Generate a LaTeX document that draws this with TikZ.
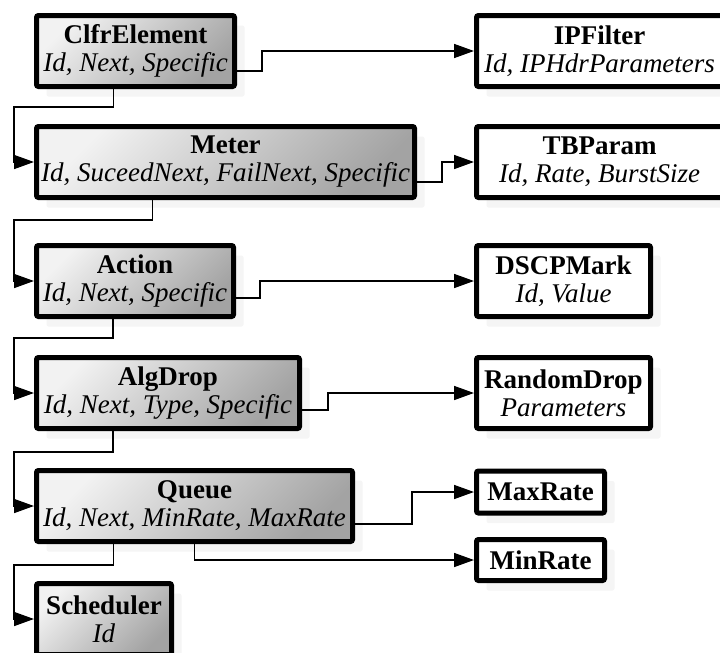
\documentclass[tikz,border=0pt]{standalone}
\usepackage{fontspec}
\setmainfont{Liberation Serif}
\usetikzlibrary{arrows.meta, shadows}

\begin{document}
\begin{tikzpicture}[x=1pt, y=-1pt, font=\fontsize{27}{28}\selectfont,
    box/.style={draw=black, line width=5pt, rounded corners=2pt, align=center,
          inner sep=0pt, minimum height=71pt,
          general shadow={fill=black!4, shadow xshift=10pt, shadow yshift=-10pt}},
    clsbox/.style={box, top color=black!5, bottom color=black!36, shading angle=45},
    databox/.style={box, fill=white},
    link/.style={line width=1.6pt, -{Triangle[length=20pt, width=14pt]}}]
    \useasboundingbox (0,0) rectangle (720,653);

    % chain of elements
    \node[clsbox, minimum width=198pt] (clfr) at (135.5,51)
          {\textbf{ClfrElement}\\\textit{Id, Next, Specific}};
    \node[clsbox, minimum width=378pt] (meter) at (225.5,162)
          {\textbf{Meter}\\\textit{Id, SuceedNext, FailNext, Specific}};
    \node[clsbox, minimum width=197pt] (action) at (135,281)
          {\textbf{Action}\\\textit{Id, Next, Specific}};
    \node[clsbox, minimum width=263pt] (algdrop) at (168,393)
          {\textbf{AlgDrop}\\\textit{Id, Next, Type, Specific}};
    \node[clsbox, minimum width=316pt] (queue) at (194.5,506)
          {\textbf{Queue}\\\textit{Id, Next, MinRate, MaxRate}};
    \node[clsbox, minimum width=135pt] (sched) at (104,619)
          {\textbf{Scheduler}\\\textit{Id}};

    % parameter blocks
    \node[databox, minimum width=246pt] (ipf) at (599.5,51)
          {\textbf{IPFilter}\\\textit{Id, IPHdrParameters}};
    \node[databox, minimum width=246pt] (tbp) at (599.5,162)
          {\textbf{TBParam}\\\textit{Id, Rate, BurstSize}};
    \node[databox, minimum width=174pt] (dscp) at (563.5,281)
          {\textbf{DSCPMark}\\\textit{Id, Value}};
    \node[databox, minimum width=174pt] (rand) at (563.5,393)
          {\textbf{RandomDrop}\\\textit{Parameters}};
    \node[databox, minimum width=128pt, minimum height=42pt] (maxr) at (540.5,492)
          {\textbf{MaxRate}};
    \node[databox, minimum width=128pt, minimum height=41pt] (minr) at (540.5,560)
          {\textbf{MinRate}};

    \coordinate (rail) at (14,0);

    % next links
    \draw[link] ([xshift=-22pt]clfr.south) -- ++(0,18) -| (rail |- meter.west) -- (meter.west);
    \draw[link] ([xshift=-73pt]meter.south) -- ++(0,20) -| (rail |- action.west) -- (action.west);
    \draw[link] ([xshift=-22pt]action.south) -- ++(0,19) -| (rail |- algdrop.west) -- (algdrop.west);
    \draw[link] ([xshift=-55pt]algdrop.south) -- ++(0,21) -| (rail |- queue.west) -- (queue.west);
    \draw[link] ([xshift=-81pt]queue.south) -- ++(0,21) -| (rail |- sched.west) -- (sched.west);

    % specific links
    \draw[link] ([yshift=-20pt]clfr.east) -- ++(25,0) |- (ipf.west);
    \draw[link] ([yshift=-20pt]meter.east) -- ++(25,0) |- (tbp.west);
    \draw[link] ([yshift=-17pt]action.east) -- ++(24,0) |- (dscp.west);
    \draw[link] ([yshift=-17pt]algdrop.east) -- ++(26,0) |- (rand.west);
    \draw[link] ([yshift=-18pt]queue.east) -- ++(57,0) |- (maxr.west);
    \draw[link] (queue.south) |- (minr.west);
  \end{tikzpicture}
\end{document}
